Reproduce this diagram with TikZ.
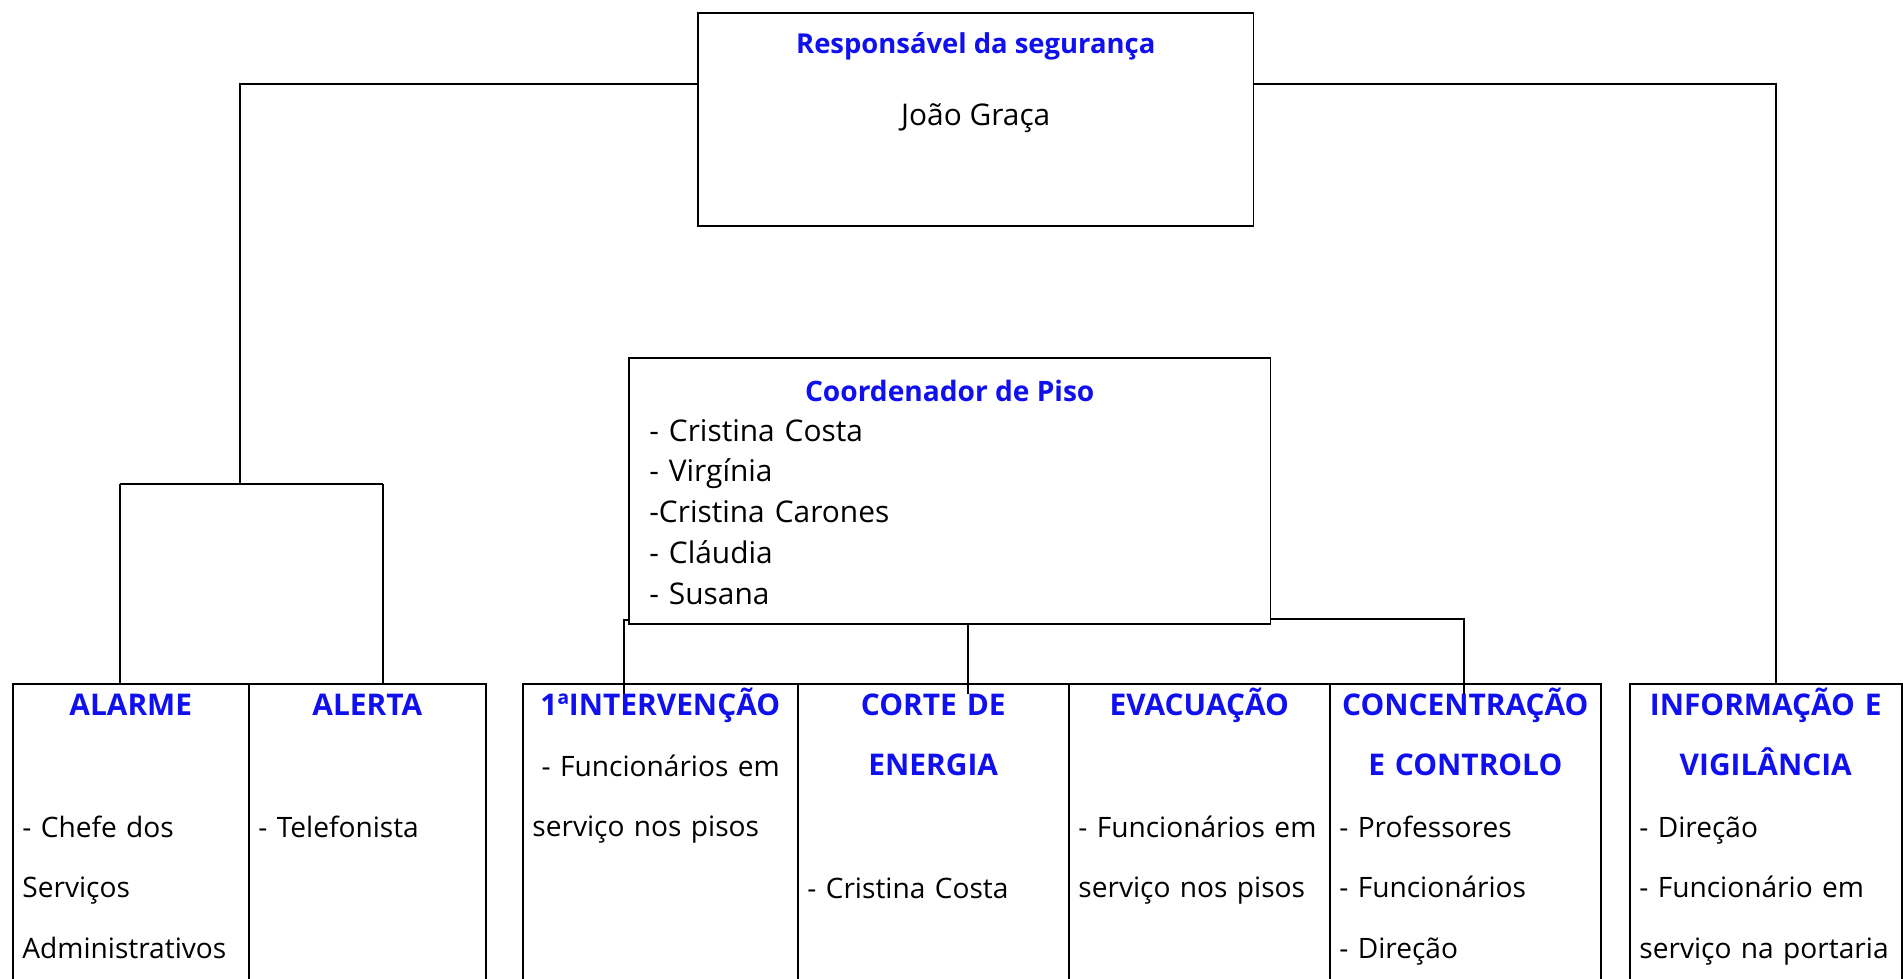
\documentclass[tikz,border=0pt]{standalone}
\usepackage{fontspec}
\setmainfont{Open Sans}
\usepackage{xcolor}
\definecolor{titblue}{RGB}{15,15,240}

\tikzset{
  box/.style={draw, line width=0.9pt, anchor=north west, inner sep=0pt},
  link/.style={line width=0.6pt},
  ttl/.style={anchor=base, text width=5.6cm, align=center, inner sep=0pt, text=titblue, font=\fontsize{17}{34.7}\bfseries\selectfont},
  txt/.style={anchor=base west, text width=6cm, align=left, inner xsep=0.2cm, inner ysep=0pt, font=\fontsize{16}{34.7}\selectfont}
}

\begin{document}
\begin{tikzpicture}[x=0.02cm, y=-0.02cm]
\useasboundingbox (0,0) rectangle (1903,978);
\clip (0,0) rectangle (1903,978);

% caixas de cima
\node[box, minimum width=11.12cm, minimum height=4.26cm] (resp) at (697,12) {};
\node[box, minimum width=12.84cm, minimum height=5.32cm] (coord) at (628,357) {};

\coordinate (ya) at (0,53);
\coordinate (yb) at (0,125);
\node[anchor=base, text=titblue, font=\fontsize{15.6}{18}\bfseries\selectfont] (respT) at (resp.north |- ya) {Responsável da segurança};
\node[anchor=base, font=\fontsize{17}{20}\selectfont] (respN) at (resp.north |- yb) {João Graça};

\coordinate (yc) at (0,401);
\coordinate (yd) at (0,441);
\node[anchor=base, text=titblue, font=\fontsize{16}{20}\bfseries\selectfont] (coordT) at (coord.north |- yc) {Coordenador de Piso};
\node[anchor=base west, text width=8cm, align=left, inner xsep=0.42cm, inner ysep=0pt, font=\fontsize{17}{23.2}\selectfont] (coordN) at (coord.west |- yd) {- Cristina Costa\\- Virgínia\\-Cristina Carones\\- Cláudia\\- Susana};

% tabela
\node[box, minimum width=4.72cm, minimum height=6.4cm] (alarme) at (12,683) {};
\node[box, minimum width=4.74cm, minimum height=6.4cm] (alerta) at (248,683) {};
\node[box, minimum width=5.5cm, minimum height=6.4cm] (interv) at (522,683) {};
\node[box, minimum width=5.42cm, minimum height=6.4cm] (corte) at (797,683) {};
\node[box, minimum width=5.22cm, minimum height=6.4cm] (evac) at (1068,683) {};
\node[box, minimum width=5.42cm, minimum height=6.4cm] (concent) at (1329,683) {};
\node[box, minimum width=5.44cm, minimum height=6.4cm] (info) at (1629,683) {};

\coordinate (r1) at (0,715);
\coordinate (r2) at (0,776);
\coordinate (r3) at (0,837);
\coordinate (r4) at (0,898);

\node[ttl] (alarmeT) at (alarme.north |- r1) {ALARME};
\node[ttl] (alertaT) at (alerta.north |- r1) {ALERTA};
\node[ttl] (intervT) at (interv.north |- r1) {1ªINTERVENÇÃO};
\node[ttl] (corteT) at (corte.north |- r1) {CORTE DE\\ENERGIA};
\node[ttl] (evacT) at (evac.north |- r1) {EVACUAÇÃO};
\node[ttl] (concentT) at (concent.north |- r1) {CONCENTRAÇÃO\\E CONTROLO};
\node[ttl] (infoT) at (info.north |- r1) {INFORMAÇÃO E\\VIGILÂNCIA};

\node[txt] (alarmeN) at (alarme.west |- r3) {- Chefe dos\\Serviços\\Administrativos};
\node[txt] (alertaN) at (alerta.west |- r3) {- Telefonista};
\node[txt] (intervN) at (interv.west |- r2) {\ - Funcionários em\\serviço nos pisos};
\node[txt] (corteN) at (corte.west |- r4) {- Cristina Costa};
\node[txt] (evacN) at (evac.west |- r3) {- Funcionários em\\serviço nos pisos};
\node[txt] (concentN) at (concent.west |- r3) {- Professores\\- Funcionários\\- Direção};
\node[txt] (infoN) at (info.west |- r3) {- Direção\\- Funcionário em\\serviço na portaria};

% ligacoes
\coordinate (bar) at (0,84);
\coordinate (jl) at (240,484);
\coordinate (ja) at (120,484);
\coordinate (jb) at (383,484);
\coordinate (jr) at (1776,84);
\coordinate (ci) at (624,620);
\coordinate (cc) at (968,623);
\coordinate (cr) at (1464,619);
\coordinate (ylow) at (0,694);

\draw[link] (resp.west |- bar) -| (jl);
\draw[link] (ja) -- (jb);
\draw[link] (ja) -- (ja |- alarme.north);
\draw[link] (jb) -- (jb |- alerta.north);
\draw[link] (resp.east |- bar) -- (jr) -- (jr |- info.north);

\draw[link] (coord.west |- ci) -- (ci) -- (ci |- ylow);
\draw[link] (coord.south -| cc) -- (cc |- ylow);
\draw[link] (coord.east |- cr) -- (cr) -- (cr |- ylow);

\end{tikzpicture}
\end{document}
